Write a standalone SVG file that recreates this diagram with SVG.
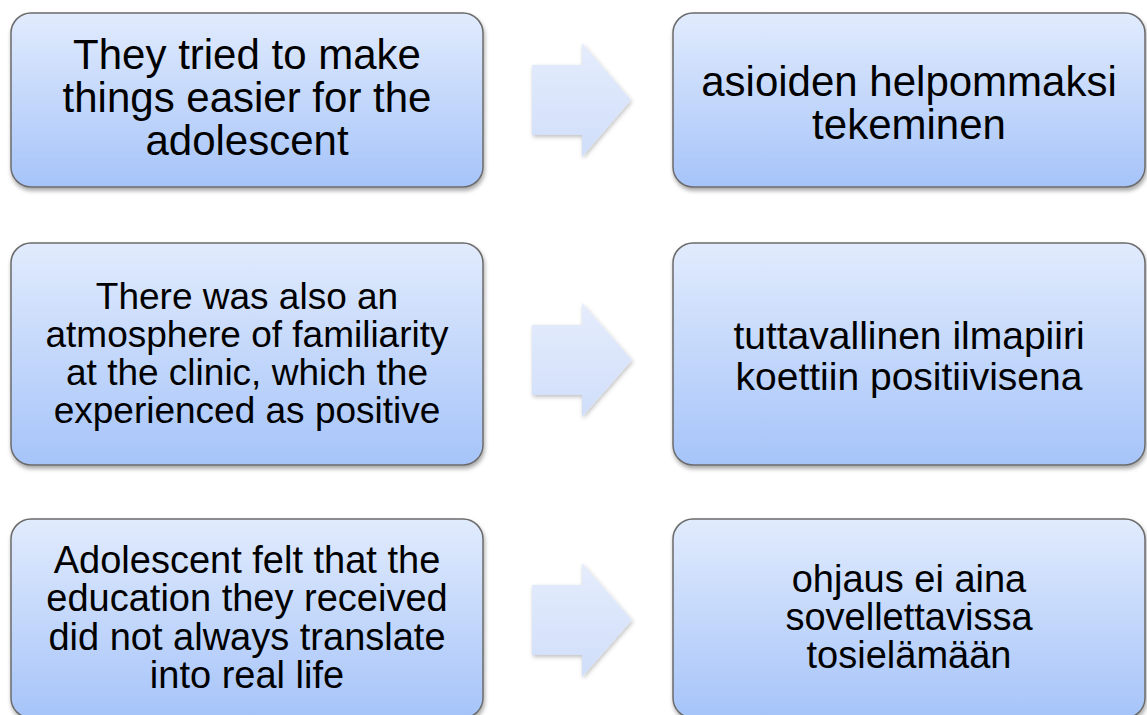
<svg xmlns="http://www.w3.org/2000/svg" width="1147" height="715" viewBox="0 0 1147 715">
  <defs>
    <linearGradient id="boxFill" x1="0" y1="0" x2="0" y2="1">
      <stop offset="0" stop-color="#e1ebfd"/>
      <stop offset="1" stop-color="#a6c4f9"/>
    </linearGradient>
    <linearGradient id="arrowFill" x1="0" y1="0" x2="0" y2="1">
      <stop offset="0" stop-color="#e5edfc"/>
      <stop offset="1" stop-color="#d0defa"/>
    </linearGradient>
    <filter id="shadow" x="-5%" y="-5%" width="110%" height="115%">
      <feDropShadow dx="1" dy="3" stdDeviation="2" flood-color="#000" flood-opacity="0.35"/>
    </filter>
    <filter id="arrowShadow" x="-10%" y="-10%" width="125%" height="125%">
      <feDropShadow dx="1" dy="2" stdDeviation="2" flood-color="#000" flood-opacity="0.25"/>
    </filter>
  </defs>
  <style>
    .box { fill: url(#boxFill); stroke: #6b6b6b; stroke-width: 1.5; filter: url(#shadow); }
    .arrow { fill: url(#arrowFill); filter: url(#arrowShadow); }
    .label { font-family: "Liberation Sans", Arial, sans-serif; fill: #000; text-anchor: middle; }
    .big { font-size: 42px; }
    .mid { font-size: 38px; }
    .sm { font-size: 37px; }
    .md2 { font-size: 39px; }
  </style>

  <rect width="1147" height="715" fill="#ffffff"/>

  <!-- row 1 -->
  <g id="node-r1-left">
    <rect class="box" x="11" y="13" width="472" height="174" rx="20"/>
    <text class="label big" x="247" y="69">They tried to make</text>
    <text class="label big" x="247" y="112">things easier for the</text>
    <text class="label big" x="247" y="155">adolescent</text>
  </g>
  <g id="node-r1-right">
    <rect class="box" x="673" y="13" width="472" height="174" rx="20"/>
    <text class="label big" x="909" y="96">asioiden helpommaksi</text>
    <text class="label big" x="909" y="139">tekeminen</text>
  </g>

  <!-- row 2 -->
  <g id="node-r2-left">
    <rect class="box" x="11" y="243" width="472" height="222" rx="20"/>
    <text class="label sm" x="247" y="309">There was also an</text>
    <text class="label sm" x="247" y="347">atmosphere of familiarity</text>
    <text class="label sm" x="247" y="385">at the clinic, which the</text>
    <text class="label sm" x="247" y="423">experienced as positive</text>
  </g>
  <g id="node-r2-right">
    <rect class="box" x="673" y="243" width="472" height="222" rx="20"/>
    <text class="label md2" x="909" y="349">tuttavallinen ilmapiiri</text>
    <text class="label md2" x="909" y="390">koettiin positiivisena</text>
  </g>

  <!-- row 3 -->
  <g id="node-r3-left">
    <rect class="box" x="11" y="519" width="472" height="199" rx="20"/>
    <text class="label mid" x="247" y="573">Adolescent felt that the</text>
    <text class="label mid" x="247" y="611">education they received</text>
    <text class="label mid" x="247" y="650">did not always translate</text>
    <text class="label mid" x="247" y="688">into real life</text>
  </g>
  <g id="node-r3-right">
    <rect class="box" x="673" y="519" width="472" height="199" rx="20"/>
    <text class="label mid" x="909" y="592">ohjaus ei aina</text>
    <text class="label mid" x="909" y="630">sovellettavissa</text>
    <text class="label mid" x="909" y="668">tosielämään</text>
  </g>

  <!-- block arrows between the columns -->
  <g id="connectors">
    <polygon class="arrow" points="532,65 582,65 582,43 631,100 582,157 582,135 532,135"/>
    <polygon class="arrow" points="532,325 582,325 582,303 632,360 582,417 582,395 532,395"/>
    <polygon class="arrow" points="532,585 582,585 582,563 632,620 582,677 582,655 532,655"/>
  </g>
</svg>
